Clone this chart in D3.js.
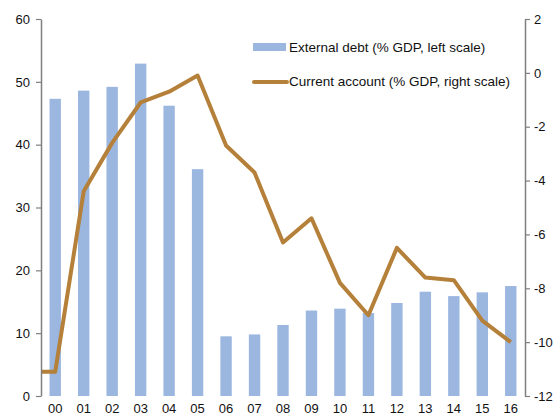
<!DOCTYPE html>
<html>
<head>
<meta charset="utf-8">
<script src="https://cdn.jsdelivr.net/npm/d3@7"></script>
<style>
  body { margin: 0; background: #fff; }
  text { font-family: "Liberation Sans", Arial, sans-serif; fill: #111; }
</style>
</head>
<body>
<div id="chart"></div>
<script>
// data
const years = ["00","01","02","03","04","05","06","07","08","09","10","11","12","13","14","15","16"];
const externalDebt = [47.3, 48.6, 49.2, 52.9, 46.2, 36.1, 9.5, 9.8, 11.3, 13.6, 13.9, 13.2, 14.8, 16.6, 15.9, 16.5, 17.5];
const currentAccount = [-11.1, -4.4, -2.6, -1.1, -0.7, -0.1, -2.7, -3.7, -6.3, -5.4, -7.8, -9.0, -6.5, -7.6, -7.7, -9.2, -10.0];
const leftTicks = [0, 10, 20, 30, 40, 50, 60];
const rightTicks = [-12, -10, -8, -6, -4, -2, 0, 2];

const width = 557, height = 416;
const margin = {top: 19, right: 32, bottom: 20, left: 41};

const barColor = "#9bb7e0";
const lineColor = "#b5803a";
const axisColor = "#7f7f7f";

let svg = d3.select("#chart")
    .append("svg")
    .attr("width", width)
    .attr("height", height);

let x = d3.scaleBand()
    .domain(years)
    .range([margin.left, width - margin.right])
    .paddingInner(0.6)
    .paddingOuter(0.3);

let yLeft = d3.scaleLinear()
    .domain([0, 60])
    .range([height - margin.bottom, margin.top]);

let yRight = d3.scaleLinear()
    .domain([-12, 2])
    .range([height - margin.bottom, margin.top]);

// bars
svg.append("g").selectAll("rect")
    .data(years)
    .join("rect")
    .attr("x", d => x(d))
    .attr("y", (d, i) => yLeft(externalDebt[i]))
    .attr("width", x.bandwidth())
    .attr("height", (d, i) => yLeft(0) - yLeft(externalDebt[i]))
    .attr("fill", barColor);

// line (starts flat from the left axis like the original)
let pts = years.map((d, i) => [x(d) + x.bandwidth() / 2, yRight(currentAccount[i])]);
pts.unshift([x.range()[0], yRight(currentAccount[0])]);

svg.append("path")
    .attr("d", d3.line()(pts))
    .attr("fill", "none")
    .attr("stroke", lineColor)
    .attr("stroke-width", 4)
    .attr("stroke-linejoin", "round");

// left axis
let leftAxis = svg.append("g")
    .attr("transform", `translate(${margin.left},0)`)
    .call(d3.axisLeft(yLeft).tickValues(leftTicks).tickSize(5).tickPadding(6).tickSizeOuter(0));

// right axis
let rightAxis = svg.append("g")
    .attr("transform", `translate(${width - margin.right},0)`)
    .call(d3.axisRight(yRight).tickValues(rightTicks).tickSize(5).tickPadding(4).tickSizeOuter(0)
        .tickFormat(d => d < 0 ? "-" + Math.abs(d) : d));

[leftAxis, rightAxis].forEach(function(a) {
    a.select(".domain").attr("stroke", axisColor).attr("stroke-width", 1.5);
    a.selectAll(".tick line").attr("stroke", axisColor).attr("stroke-width", 1.2);
    a.selectAll(".tick text").style("font-size", "13px").attr("fill", "#111")
        .style("font-family", "Liberation Sans, Arial, sans-serif");
});

// x labels
svg.append("g").selectAll("text")
    .data(years)
    .join("text")
    .attr("x", d => x(d) + x.bandwidth() / 2)
    .attr("y", height - 3)
    .style("text-anchor", "middle")
    .style("font-size", "13px")
    .text(d => d);

// legend
let legend = svg.append("g").attr("transform", "translate(253, 0)");
legend.append("rect")
    .attr("x", 0).attr("y", 43)
    .attr("width", 33).attr("height", 8)
    .attr("fill", barColor);
legend.append("text")
    .attr("x", 36).attr("y", 52)
    .style("font-size", "13.5px")
    .text("External debt (% GDP, left scale)");
legend.append("line")
    .attr("x1", 1).attr("x2", 34)
    .attr("y1", 82).attr("y2", 82)
    .attr("stroke", lineColor)
    .attr("stroke-width", 4)
    .attr("stroke-linecap", "round");
legend.append("text")
    .attr("x", 36).attr("y", 86)
    .style("font-size", "13.5px")
    .text("Current account (% GDP, right scale)");
</script>
</body>
</html>
